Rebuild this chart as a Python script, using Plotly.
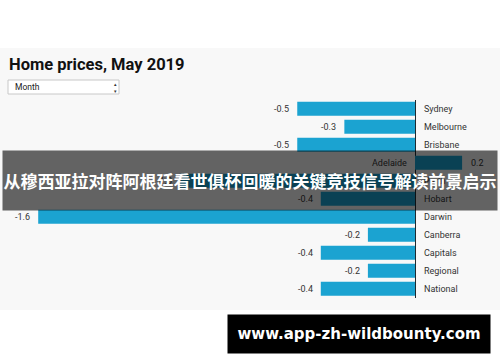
import plotly.graph_objects as go

# ---- data ----
cities = ["Sydney", "Melbourne", "Brisbane", "Adelaide", "Perth", "Hobart",
          "Darwin", "Canberra", "Capitals", "Regional", "National"]
monthly_change = [-0.5, -0.3, -0.5, 0.2, -1.0, -0.4, -1.6, -0.2, -0.4, -0.2, -0.4]
title_text = "Home prices, May 2019"
dropdown_text = "Month"
overlay_text = "从穆西亚拉对阵阿根廷看世俱杯回暖的关键竞技信号解读前景启示"
watermark_text = "www.app-zh-wildbounty.com"

W, H = 500, 362
def px(x):
    return x / W
def py(y):
    return 1 - y / H

BAR = "#1ba3d1"
LABEL = "#333333"
FONT = "Roboto, Arial, sans-serif"

fig = go.Figure()
fig.add_trace(go.Bar(
    x=monthly_change, y=cities, orientation="h",
    marker=dict(color=BAR, line=dict(width=0)),
    hoverinfo="skip", showlegend=False,
))

annotations = []
annotations.append(dict(
    text=f"<b>{title_text}</b>", xref="paper", yref="paper",
    x=px(7), y=py(64), xanchor="left", yanchor="middle", showarrow=False,
    font=dict(family=FONT, size=16.5, color="#111111"),
))
annotations.append(dict(
    text=dropdown_text, xref="paper", yref="paper",
    x=px(13), y=py(87.5), xanchor="left", yanchor="middle", showarrow=False,
    font=dict(family=FONT, size=8.5, color="#222222"),
))
annotations.append(dict(
    text="▴<br>▾", xref="paper", yref="paper",
    x=px(115), y=py(87.5), xanchor="center", yanchor="middle", showarrow=False,
    font=dict(family="DejaVu Sans", size=5, color="#333333"),
))

for c, v in zip(cities, monthly_change):
    neg = v < 0
    annotations.append(dict(
        text=c, x=0, y=c, xref="x", yref="y",
        xanchor="left" if neg else "right", xshift=7 if neg else -6,
        yanchor="middle", showarrow=False,
        font=dict(family=FONT, size=9, color=LABEL),
    ))
    annotations.append(dict(
        text=f"{v:.1f}", x=v, y=c, xref="x", yref="y",
        xanchor="right" if neg else "left", xshift=-6 if neg else 7,
        yanchor="middle", showarrow=False,
        font=dict(family=FONT, size=9, color=LABEL),
    ))

annotations.append(dict(
    text=f"<b>{overlay_text}</b>", xref="paper", yref="paper",
    x=px(250), y=py(180.5), xanchor="center", yanchor="middle",
    width=494, height=59, borderpad=0, bgcolor="rgba(0,0,0,0.6)",
    align="center", valign="middle", showarrow=False,
    font=dict(family="Noto Sans CJK SC", size=17, color="#ffffff"),
))
annotations.append(dict(
    text=f"<b>{watermark_text}</b>", xref="paper", yref="paper",
    x=px(359), y=py(334), xanchor="center", yanchor="middle",
    width=262, height=38, borderpad=0, bgcolor="#000000",
    align="center", valign="middle", showarrow=False,
    font=dict(family="DejaVu Sans, sans-serif", size=15, color="#ffffff"),
))

shapes = [
    dict(type="rect", xref="paper", yref="paper", x0=0, x1=1, y0=py(310), y1=py(48),
         fillcolor="#f8f8f8", line=dict(width=0), layer="below"),
    dict(type="rect", xref="paper", yref="paper", x0=px(8), x1=px(119), y0=py(94), y1=py(80),
         fillcolor="#ffffff", line=dict(color="#c8c8c8", width=1), layer="below"),
]

n = len(cities)
fig.update_layout(
    width=W, height=H, margin=dict(l=0, r=0, t=0, b=0),
    paper_bgcolor="#ffffff", plot_bgcolor="rgba(0,0,0,0)",
    bargap=0.22, showlegend=False,
    xaxis=dict(range=[-415 / 235.5, 85 / 235.5], domain=[0, 1],
               showgrid=False, showticklabels=False, ticks="",
               zeroline=True, zerolinecolor="#1e2a30", zerolinewidth=1,
               fixedrange=True),
    yaxis=dict(range=[n - 0.5, -0.5], domain=[py(297.7), py(99.7)],
               showgrid=False, showticklabels=False, ticks="", zeroline=False,
               fixedrange=True),
    annotations=annotations, shapes=shapes,
)

fig.write_html("out.html", config={"displayModeBar": False},
               post_script="document.body.style.margin='0';document.body.style.overflow='hidden';")
